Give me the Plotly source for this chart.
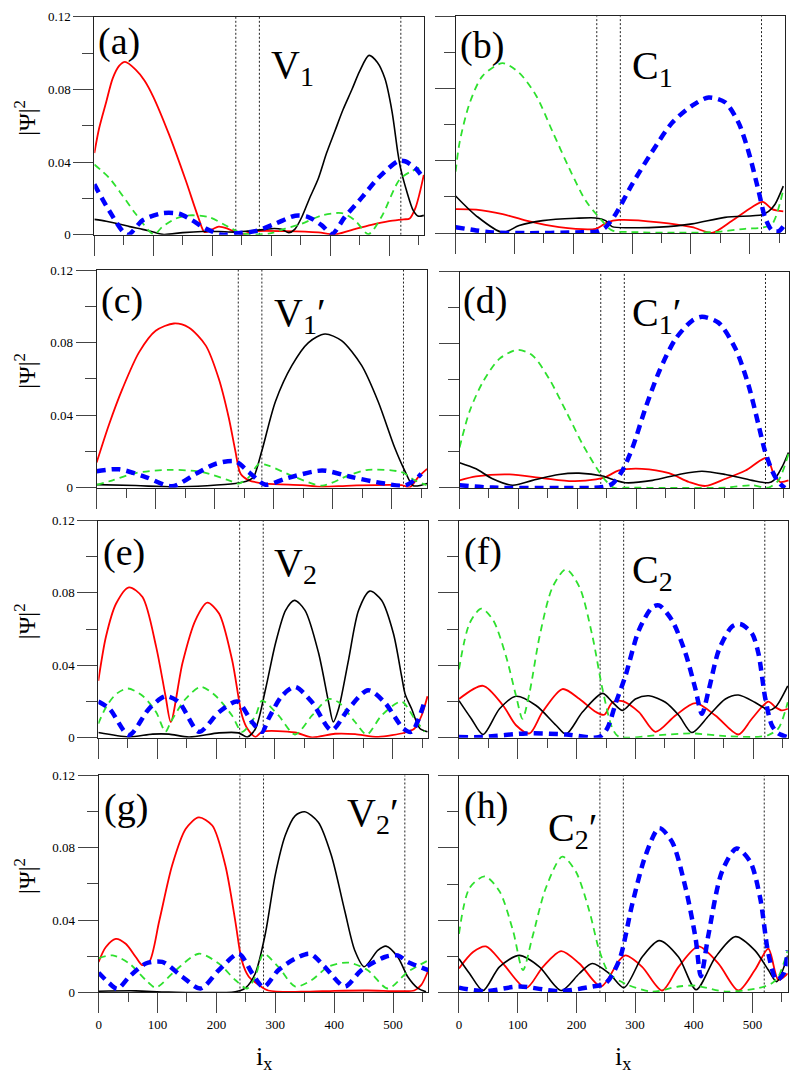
import plotly.graph_objects as go

# ---------------- data ----------------
X_RANGE = [0, 560]
Y_RANGE = [0, 0.12]
BOUNDARIES = [240, 280, 520]
X_TICKS = [0, 100, 200, 300, 400, 500]
Y_TICKS = [0, 0.04, 0.08, 0.12]
PANEL_LABELS = ["(a)", "(b)", "(c)", "(d)", "(e)", "(f)", "(g)", "(h)"]
STATE_LABELS = ["V<sub>1</sub>", "C<sub>1</sub>", "V<sub>1</sub>\u2032", "C<sub>1</sub>\u2032",
                "V<sub>2</sub>", "C<sub>2</sub>", "V<sub>2</sub>\u2032", "C<sub>2</sub>\u2032"]
Y_TITLE = "|Ψ|<sup>2</sup>"
X_TITLE = "i<sub>x</sub>"

A_RED_X = [0, 8, 20, 31, 42, 52, 70, 85, 100, 127, 155, 177, 187, 200, 211, 225, 239, 253, 273, 324, 380, 408, 440, 470, 500, 525, 535, 545, 552, 559]
A_RED_Y = [0.045, 0.0585, 0.073, 0.086, 0.093, 0.0952, 0.091, 0.085, 0.076, 0.055, 0.030, 0.009, 0.0015, 0.003, 0.0045, 0.0035, 0.0015, 0.0004, 0.002, 0.002, 0.0013, 0.0002, 0.003, 0.0055, 0.0075, 0.0085, 0.009, 0.015, 0.023, 0.033]
A_BLK_X = [0, 20, 42, 60, 82, 100, 118, 150, 183, 210, 239, 260, 290, 305, 318, 330, 340, 352, 365, 380, 394, 408, 422, 437, 450, 466, 480, 493, 505, 515, 520, 530, 541, 549, 559]
A_BLK_Y = [0.0085, 0.0075, 0.006, 0.0045, 0.003, 0.0015, 0.0002, 0.0012, 0.0018, 0.0018, 0.0015, 0.002, 0.003, 0.0035, 0.003, 0.0012, 0.003, 0.0098, 0.02, 0.031, 0.045, 0.057, 0.069, 0.080, 0.090, 0.0988, 0.095, 0.086, 0.068, 0.045, 0.036, 0.024, 0.0134, 0.0103, 0.0107]
A_GRN_X = [0, 25, 48, 70, 101, 115, 138, 161, 194, 228, 251, 296, 324, 352, 386, 420, 442, 465, 487, 518, 538, 558]
A_GRN_Y = [0.0387, 0.0314, 0.0215, 0.0116, 0.0002, 0.0043, 0.0089, 0.0107, 0.0098, 0.0043, 0.0007, 0.0007, 0.0034, 0.0061, 0.0107, 0.0119, 0.008, 0.0004, 0.0098, 0.0305, 0.035, 0.0376]
A_BLU_X = [0, 25, 56, 82, 115, 144, 166, 189, 217, 239, 273, 307, 341, 363, 386, 403, 425, 454, 482, 515, 527, 544, 556]
A_BLU_Y = [0.0278, 0.0134, 0.0, 0.008, 0.0119, 0.0116, 0.008, 0.0034, 0.0, 0.0007, 0.002, 0.0061, 0.0105, 0.0098, 0.0052, 0.0004, 0.0098, 0.0206, 0.0314, 0.0405, 0.0405, 0.0369, 0.0323]

B_RED_X = [0, 35, 80, 120, 176, 238, 258, 278, 346, 402, 436, 470, 503, 522, 538, 557]
B_RED_Y = [0.0133, 0.013, 0.0105, 0.0069, 0.0033, 0.0024, 0.006, 0.0073, 0.006, 0.0033, 0.0002, 0.0069, 0.0142, 0.0173, 0.0133, 0.012]
B_BLK_X = [0, 35, 80, 108, 148, 204, 238, 255, 266, 300, 346, 402, 458, 521, 532, 543, 557]
B_BLK_Y = [0.0205, 0.0096, 0.0004, 0.0042, 0.0069, 0.0082, 0.0084, 0.0069, 0.0036, 0.003, 0.0033, 0.0051, 0.0087, 0.0102, 0.012, 0.016, 0.026]
B_GRN_X = [0, 7, 24, 46, 80, 108, 137, 165, 193, 221, 244, 266, 300, 380, 440, 492, 521, 538, 557]
B_GRN_Y = [0.034, 0.0505, 0.072, 0.087, 0.094, 0.0887, 0.076, 0.056, 0.036, 0.018, 0.0087, 0.0015, 0.0006, 0.0002, 0.0006, 0.0024, 0.003, 0.005, 0.024]
B_BLU_X = [0, 35, 63, 120, 204, 241, 255, 272, 300, 334, 368, 402, 430, 458, 481, 498, 515, 526, 538, 549, 557]
B_BLU_Y = [0.0033, 0.0015, 0.0004, 0.0, 0.0004, 0.001, 0.0033, 0.0105, 0.027, 0.045, 0.061, 0.0705, 0.075, 0.0724, 0.061, 0.045, 0.0233, 0.0087, 0.0015, 0.001, 0.0036]

C_RED_X = [0, 21, 44, 72, 100, 131, 156, 185, 207, 224, 235, 244, 258, 286, 348, 382, 432, 517, 531, 545, 560]
C_RED_Y = [0.0138, 0.0348, 0.0547, 0.0747, 0.0865, 0.0905, 0.0883, 0.0783, 0.060, 0.0384, 0.0203, 0.0076, 0.004, 0.0022, 0.0013, 0.0004, 0.0011, 0.0013, 0.0002, 0.0058, 0.0103]
C_BLK_X = [0, 66, 134, 235, 258, 266, 280, 303, 331, 359, 387, 415, 449, 477, 505, 522, 536, 550, 560]
C_BLK_Y = [0.0016, 0.0011, 0.0004, 0.0022, 0.004, 0.0058, 0.0203, 0.0475, 0.0674, 0.080, 0.0847, 0.081, 0.0674, 0.0475, 0.0221, 0.0094, 0.0011, 0.0013, 0.0022]
C_GRN_X = [0, 27, 66, 123, 179, 224, 241, 258, 275, 291, 336, 382, 427, 460, 517, 539, 559]
C_GRN_Y = [0.0015, 0.004, 0.008, 0.0098, 0.0085, 0.004, 0.0022, 0.0058, 0.013, 0.0121, 0.0058, 0.0011, 0.0067, 0.0098, 0.0085, 0.004, 0.0013]
C_BLU_X = [0, 38, 83, 128, 168, 201, 235, 258, 286, 320, 382, 432, 488, 522, 542, 550]
C_BLU_Y = [0.009, 0.0101, 0.0058, 0.0007, 0.0076, 0.013, 0.0145, 0.0085, 0.0016, 0.0049, 0.0094, 0.0058, 0.0022, 0.0011, 0.0049, 0.0076]

D_RED_X = [0, 28, 85, 141, 192, 232, 248, 271, 310, 356, 390, 418, 452, 486, 522, 534, 545, 559]
D_RED_Y = [0.0042, 0.0064, 0.0075, 0.0055, 0.0038, 0.0047, 0.006, 0.0097, 0.0106, 0.0082, 0.0033, 0.0011, 0.0051, 0.0097, 0.0166, 0.0078, 0.0033, 0.0042]
D_BLK_X = [0, 28, 56, 90, 124, 169, 203, 243, 265, 282, 328, 373, 412, 452, 497, 525, 534, 548, 559]
D_BLK_Y = [0.014, 0.0106, 0.0051, 0.0015, 0.0042, 0.0075, 0.0082, 0.0066, 0.0042, 0.0029, 0.0042, 0.0075, 0.0093, 0.0075, 0.0042, 0.0029, 0.0042, 0.0115, 0.0197]
D_GRN_X = [0, 17, 40, 68, 99, 124, 152, 181, 209, 232, 248, 263, 282, 350, 452, 497, 525, 542, 559]
D_GRN_Y = [0.0224, 0.0425, 0.059, 0.0717, 0.0766, 0.0735, 0.0607, 0.0425, 0.0243, 0.0115, 0.0042, 0.0, 0.0002, 0.0, 0.0002, 0.0015, 0.0002, 0.0042, 0.0188]
D_BLU_X = [0, 56, 170, 243, 260, 277, 294, 316, 339, 367, 395, 412, 440, 469, 491, 508, 519, 531, 542, 553]
D_BLU_Y = [0.0015, 0.0002, 0.0, 0.0005, 0.0024, 0.0097, 0.0224, 0.0443, 0.0644, 0.0826, 0.0927, 0.0949, 0.0917, 0.0772, 0.0571, 0.0352, 0.0206, 0.0097, 0.0033, 0.0]

E_RED_X = [0, 13, 30, 52, 75, 98, 114, 123, 143, 165, 185, 205, 227, 244, 253, 267, 278, 334, 363, 402, 436, 475, 521, 537, 549, 559]
E_RED_Y = [0.0314, 0.0559, 0.074, 0.0831, 0.0777, 0.0505, 0.0232, 0.0087, 0.0414, 0.065, 0.0746, 0.0686, 0.0432, 0.0123, 0.0051, 0.0005, 0.0033, 0.0029, 0.0002, 0.0022, 0.002, 0.0005, 0.0029, 0.0051, 0.0123, 0.0229]
E_BLK_X = [0, 52, 92, 120, 154, 205, 238, 253, 267, 284, 301, 318, 333, 351, 374, 391, 399, 408, 425, 442, 461, 481, 501, 515, 521, 532, 546, 559]
E_BLK_Y = [0.0029, 0.0005, 0.002, 0.002, 0.0004, 0.0027, 0.0027, 0.0004, 0.0051, 0.0269, 0.0523, 0.0704, 0.0759, 0.0704, 0.0468, 0.0196, 0.0087, 0.016, 0.0432, 0.0704, 0.081, 0.0759, 0.0577, 0.0341, 0.0241, 0.016, 0.0051, 0.0033]
E_GRN_X = [0, 13, 30, 50, 75, 98, 114, 123, 148, 174, 199, 227, 244, 267, 278, 306, 334, 363, 391, 408, 436, 456, 481, 515, 537, 554]
E_GRN_Y = [0.0078, 0.0169, 0.0241, 0.0272, 0.0232, 0.0142, 0.0033, 0.0087, 0.0214, 0.0281, 0.0232, 0.0123, 0.0033, 0.0123, 0.0205, 0.0123, 0.0018, 0.0123, 0.0214, 0.0196, 0.0087, 0.0018, 0.0123, 0.02, 0.0105, 0.0033]
E_BLU_X = [0, 19, 52, 86, 114, 137, 171, 205, 236, 261, 278, 289, 312, 334, 363, 396, 425, 458, 486, 518, 532, 554]
E_BLU_Y = [0.02, 0.016, 0.0015, 0.016, 0.0229, 0.0196, 0.0033, 0.0142, 0.02, 0.0087, 0.0033, 0.0105, 0.0232, 0.0281, 0.0196, 0.0042, 0.016, 0.0263, 0.0196, 0.0051, 0.0033, 0.02]

F_RED_X = [0, 41, 75, 97, 120, 142, 176, 205, 233, 247, 261, 278, 306, 334, 368, 402, 436, 475, 498, 526, 538, 549, 559]
F_RED_Y = [0.0214, 0.0287, 0.0178, 0.0069, 0.0024, 0.0142, 0.0269, 0.0214, 0.0142, 0.0127, 0.0196, 0.0203, 0.0142, 0.0033, 0.0123, 0.0191, 0.0123, 0.0018, 0.0105, 0.02, 0.0169, 0.0151, 0.016]
F_BLK_X = [0, 21, 41, 69, 97, 131, 165, 182, 210, 244, 261, 278, 300, 323, 351, 374, 396, 425, 453, 475, 503, 521, 526, 538, 559]
F_BLK_Y = [0.0205, 0.0105, 0.0018, 0.016, 0.0229, 0.0178, 0.0069, 0.002, 0.0142, 0.0245, 0.0196, 0.0151, 0.0214, 0.0232, 0.0196, 0.0123, 0.0029, 0.0123, 0.0214, 0.0236, 0.0196, 0.016, 0.0151, 0.0169, 0.0287]
F_GRN_X = [0, 18, 38, 58, 80, 97, 108, 120, 137, 159, 182, 205, 227, 244, 261, 272, 340, 396, 453, 509, 526, 543, 559]
F_GRN_Y = [0.0378, 0.0632, 0.0713, 0.065, 0.045, 0.0232, 0.0105, 0.025, 0.0559, 0.0831, 0.0931, 0.0831, 0.0559, 0.0269, 0.0051, 0.0005, 0.0015, 0.0024, 0.0009, 0.0005, 0.0015, 0.0051, 0.0196]
F_BLU_X = [0, 40, 114, 182, 238, 252, 267, 283, 306, 329, 340, 362, 385, 402, 413, 425, 442, 464, 478, 498, 509, 521, 532, 543, 557]
F_BLU_Y = [0.0004, 0.0004, 0.0024, 0.0018, 0.0004, 0.0051, 0.0196, 0.0341, 0.0595, 0.0722, 0.0731, 0.065, 0.0468, 0.0269, 0.0132, 0.0269, 0.0486, 0.0613, 0.0628, 0.0577, 0.0468, 0.0214, 0.0069, 0.0024, 0.0005]

G_RED_X = [0, 12, 29, 46, 63, 74, 86, 103, 125, 148, 170, 193, 215, 232, 243, 255, 272, 288, 345, 401, 457, 514, 536, 548, 560]
G_RED_Y = [0.0169, 0.025, 0.0296, 0.0269, 0.0196, 0.0151, 0.0169, 0.0396, 0.0704, 0.0904, 0.0967, 0.0922, 0.0704, 0.0396, 0.0178, 0.0087, 0.0042, 0.0011, 0.0004, 0.0009, 0.0011, 0.0007, 0.0011, 0.0042, 0.0123]
G_BLK_X = [0, 63, 119, 232, 249, 266, 283, 300, 317, 334, 350, 373, 395, 418, 435, 451, 474, 488, 508, 525, 542, 556]
G_BLK_Y = [0.0007, 0.0009, 0.0002, 0.0004, 0.0024, 0.0105, 0.0323, 0.065, 0.0868, 0.0977, 0.0998, 0.094, 0.0759, 0.045, 0.0232, 0.0142, 0.0232, 0.0256, 0.0196, 0.0087, 0.0024, 0.0004]
G_GRN_X = [0, 24, 52, 80, 97, 131, 170, 204, 232, 252, 266, 280, 305, 334, 362, 390, 424, 457, 491, 525, 560]
G_GRN_Y = [0.0189, 0.0205, 0.016, 0.0069, 0.0027, 0.0123, 0.0214, 0.016, 0.0069, 0.0022, 0.0087, 0.0214, 0.0142, 0.0033, 0.0069, 0.0142, 0.0165, 0.0123, 0.0022, 0.0114, 0.0178]
G_BLU_X = [0, 18, 32, 52, 80, 108, 142, 173, 204, 238, 261, 280, 305, 334, 359, 384, 418, 446, 486, 508, 525, 560]
G_BLU_Y = [0.0109, 0.0051, 0.002, 0.0087, 0.016, 0.0169, 0.0087, 0.0022, 0.0123, 0.0214, 0.0105, 0.0029, 0.0123, 0.0187, 0.0214, 0.0142, 0.0033, 0.0123, 0.0196, 0.0205, 0.0169, 0.0123]

H_RED_X = [0, 24, 46, 75, 114, 143, 174, 205, 242, 273, 284, 312, 346, 374, 408, 442, 476, 504, 527, 544, 560]
H_RED_Y = [0.0133, 0.0224, 0.0255, 0.016, 0.0024, 0.0142, 0.0229, 0.016, 0.0033, 0.0178, 0.0205, 0.0142, 0.0011, 0.0142, 0.0255, 0.016, 0.0011, 0.0124, 0.0242, 0.0069, 0.0105]
H_BLK_X = [0, 18, 41, 69, 103, 137, 174, 205, 227, 256, 281, 312, 341, 374, 404, 437, 471, 504, 527, 541, 560]
H_BLK_Y = [0.0187, 0.0105, 0.0011, 0.0142, 0.0205, 0.0142, 0.0011, 0.0105, 0.016, 0.0105, 0.0027, 0.0196, 0.0287, 0.0196, 0.0015, 0.0196, 0.0309, 0.0233, 0.0124, 0.006, 0.0205]
H_GRN_X = [0, 18, 44, 69, 92, 109, 125, 148, 176, 199, 222, 239, 256, 284, 329, 374, 403, 454, 510, 533, 544, 560]
H_GRN_Y = [0.0324, 0.0578, 0.0642, 0.056, 0.0342, 0.0124, 0.0305, 0.0578, 0.0751, 0.0669, 0.0451, 0.0233, 0.0105, 0.0047, 0.0005, 0.0033, 0.0038, 0.0005, 0.0024, 0.0051, 0.0087, 0.0233]
H_BLU_X = [0, 44, 103, 171, 227, 250, 273, 295, 318, 341, 363, 386, 403, 412, 425, 448, 473, 496, 513, 527, 541, 553, 560]
H_BLU_Y = [0.0027, 0.0007, 0.0033, 0.0007, 0.0033, 0.0051, 0.0178, 0.0487, 0.076, 0.0909, 0.0833, 0.0578, 0.030, 0.009, 0.032, 0.0669, 0.0796, 0.0724, 0.0524, 0.0215, 0.0069, 0.0105, 0.0233]

PANELS = [
    [(A_RED_X, A_RED_Y), (A_BLK_X, A_BLK_Y), (A_GRN_X, A_GRN_Y), (A_BLU_X, A_BLU_Y)],
    [(B_RED_X, B_RED_Y), (B_BLK_X, B_BLK_Y), (B_GRN_X, B_GRN_Y), (B_BLU_X, B_BLU_Y)],
    [(C_RED_X, C_RED_Y), (C_BLK_X, C_BLK_Y), (C_GRN_X, C_GRN_Y), (C_BLU_X, C_BLU_Y)],
    [(D_RED_X, D_RED_Y), (D_BLK_X, D_BLK_Y), (D_GRN_X, D_GRN_Y), (D_BLU_X, D_BLU_Y)],
    [(E_RED_X, E_RED_Y), (E_BLK_X, E_BLK_Y), (E_GRN_X, E_GRN_Y), (E_BLU_X, E_BLU_Y)],
    [(F_RED_X, F_RED_Y), (F_BLK_X, F_BLK_Y), (F_GRN_X, F_GRN_Y), (F_BLU_X, F_BLU_Y)],
    [(G_RED_X, G_RED_Y), (G_BLK_X, G_BLK_Y), (G_GRN_X, G_GRN_Y), (G_BLU_X, G_BLU_Y)],
    [(H_RED_X, H_RED_Y), (H_BLK_X, H_BLK_Y), (H_GRN_X, H_GRN_Y), (H_BLU_X, H_BLU_Y)],
]

# ---------------- styling / layout ----------------
W, H = 796, 1085
SERIF = "Liberation Serif"
STYLES = [
    dict(color="#ff0000", width=1.8),
    dict(color="#000000", width=1.6),
    dict(color="#2ee02e", width=1.8, dash="7px,5px"),
    dict(color="#0000ff", width=4.5, dash="9px,6px"),
]
BOXES = [
    (91.7, 423.0, 10.0, 231.0), (454.3, 785.0, 9.3, 229.3),
    (94.0, 425.7, 266.7, 487.3), (458.3, 789.0, 268.3, 487.7),
    (95.7, 426.7, 520.7, 741.0), (457.7, 788.3, 520.7, 741.0),
    (96.0, 427.0, 779.0, 999.3), (457.7, 787.7, 779.3, 999.3),
]
LABEL_POS = [(2, 0.1064), (4, 0.1038), (4, 0.103), (3, 0.104),
             (4, 0.1024), (5, 0.103), (6, 0.102), (5, 0.1033)]
STATE_POS = [(296, 0.0923), (297, 0.0913), (297, 0.0954), (290, 0.096),
             (295, 0.0953), (291, 0.0915), (418, 0.0982), (148, 0.090)]

# boundary guide lines built from BOUNDARIES and the y range
GUIDE_X, GUIDE_Y = [], []
for bx in BOUNDARIES:
    GUIDE_X += [bx, bx, None]
    GUIDE_Y += [Y_RANGE[0], Y_RANGE[1], None]

fig = go.Figure()
fig.update_layout(width=W, height=H, margin=dict(l=0, r=0, t=0, b=0),
                  paper_bgcolor="white", plot_bgcolor="white", showlegend=False)

for k, (curves, box) in enumerate(zip(PANELS, BOXES)):
    n = k + 1
    xa = "x" if n == 1 else f"x{n}"
    ya = "y" if n == 1 else f"y{n}"
    l, r, t, b = box
    fig.add_trace(go.Scatter(x=GUIDE_X, y=GUIDE_Y, mode="lines", xaxis=xa, yaxis=ya,
                             line=dict(color="#222", width=1, dash="2px,2px")))
    for (xs, ys), st in zip(curves, STYLES):
        fig.add_trace(go.Scatter(x=xs, y=ys, mode="lines", xaxis=xa, yaxis=ya,
                                 line=dict(shape="spline", smoothing=0.8, **st)))
    bottom_row = n in (7, 8)
    left_col = n % 2 == 1
    fig.update_layout({
        ("xaxis" if n == 1 else f"xaxis{n}"): dict(
            domain=[l / W, r / W], anchor=ya, range=X_RANGE,
            tickvals=X_TICKS, showticklabels=bottom_row,
            ticks="outside", ticklen=20, tickwidth=1, tickcolor="#444",
            minor=dict(dtick=50, tick0=0, ticks="outside", ticklen=9, tickwidth=1, tickcolor="#444"),
            showline=True, linecolor="#222", linewidth=1, mirror=True,
            showgrid=False, zeroline=False, tickfont=dict(family=SERIF, size=13, color="black")),
        ("yaxis" if n == 1 else f"yaxis{n}"): dict(
            domain=[1 - b / H, 1 - t / H], anchor=xa, range=Y_RANGE,
            tickvals=Y_TICKS, showticklabels=left_col,
            ticks="outside", ticklen=20, tickwidth=1, tickcolor="#444",
            minor=dict(dtick=0.02, tick0=0, ticks="outside", ticklen=11, tickwidth=1, tickcolor="#444"),
            showline=True, linecolor="#222", linewidth=1, mirror=True,
            showgrid=False, zeroline=False, tickfont=dict(family=SERIF, size=13, color="black")),
    })
    lx, ly = LABEL_POS[k]
    fig.add_annotation(xref=xa, yref=ya, x=lx, y=ly, text=PANEL_LABELS[k], showarrow=False,
                       xanchor="left", yanchor="middle", font=dict(family=SERIF, size=38, color="black"))
    sx, sy = STATE_POS[k]
    fig.add_annotation(xref=xa, yref=ya, x=sx, y=sy, text=STATE_LABELS[k], showarrow=False,
                       xanchor="left", yanchor="middle", font=dict(family=SERIF, size=40, color="black"))
    if left_col:
        fig.add_annotation(xref="paper", yref="paper", x=22 / W, y=1 - ((t + b) / 2 - 8) / H,
                           text=Y_TITLE, textangle=-90, showarrow=False,
                           xanchor="center", yanchor="middle", font=dict(family=SERIF, size=24, color="black"))
    if bottom_row:
        fig.add_annotation(xref="paper", yref="paper", x=((l + r) / 2) / W, y=1 - 1066 / H,
                           text=X_TITLE, showarrow=False,
                           xanchor="center", yanchor="middle", font=dict(family=SERIF, size=26, color="black"))

fig.write_html("out.html")
